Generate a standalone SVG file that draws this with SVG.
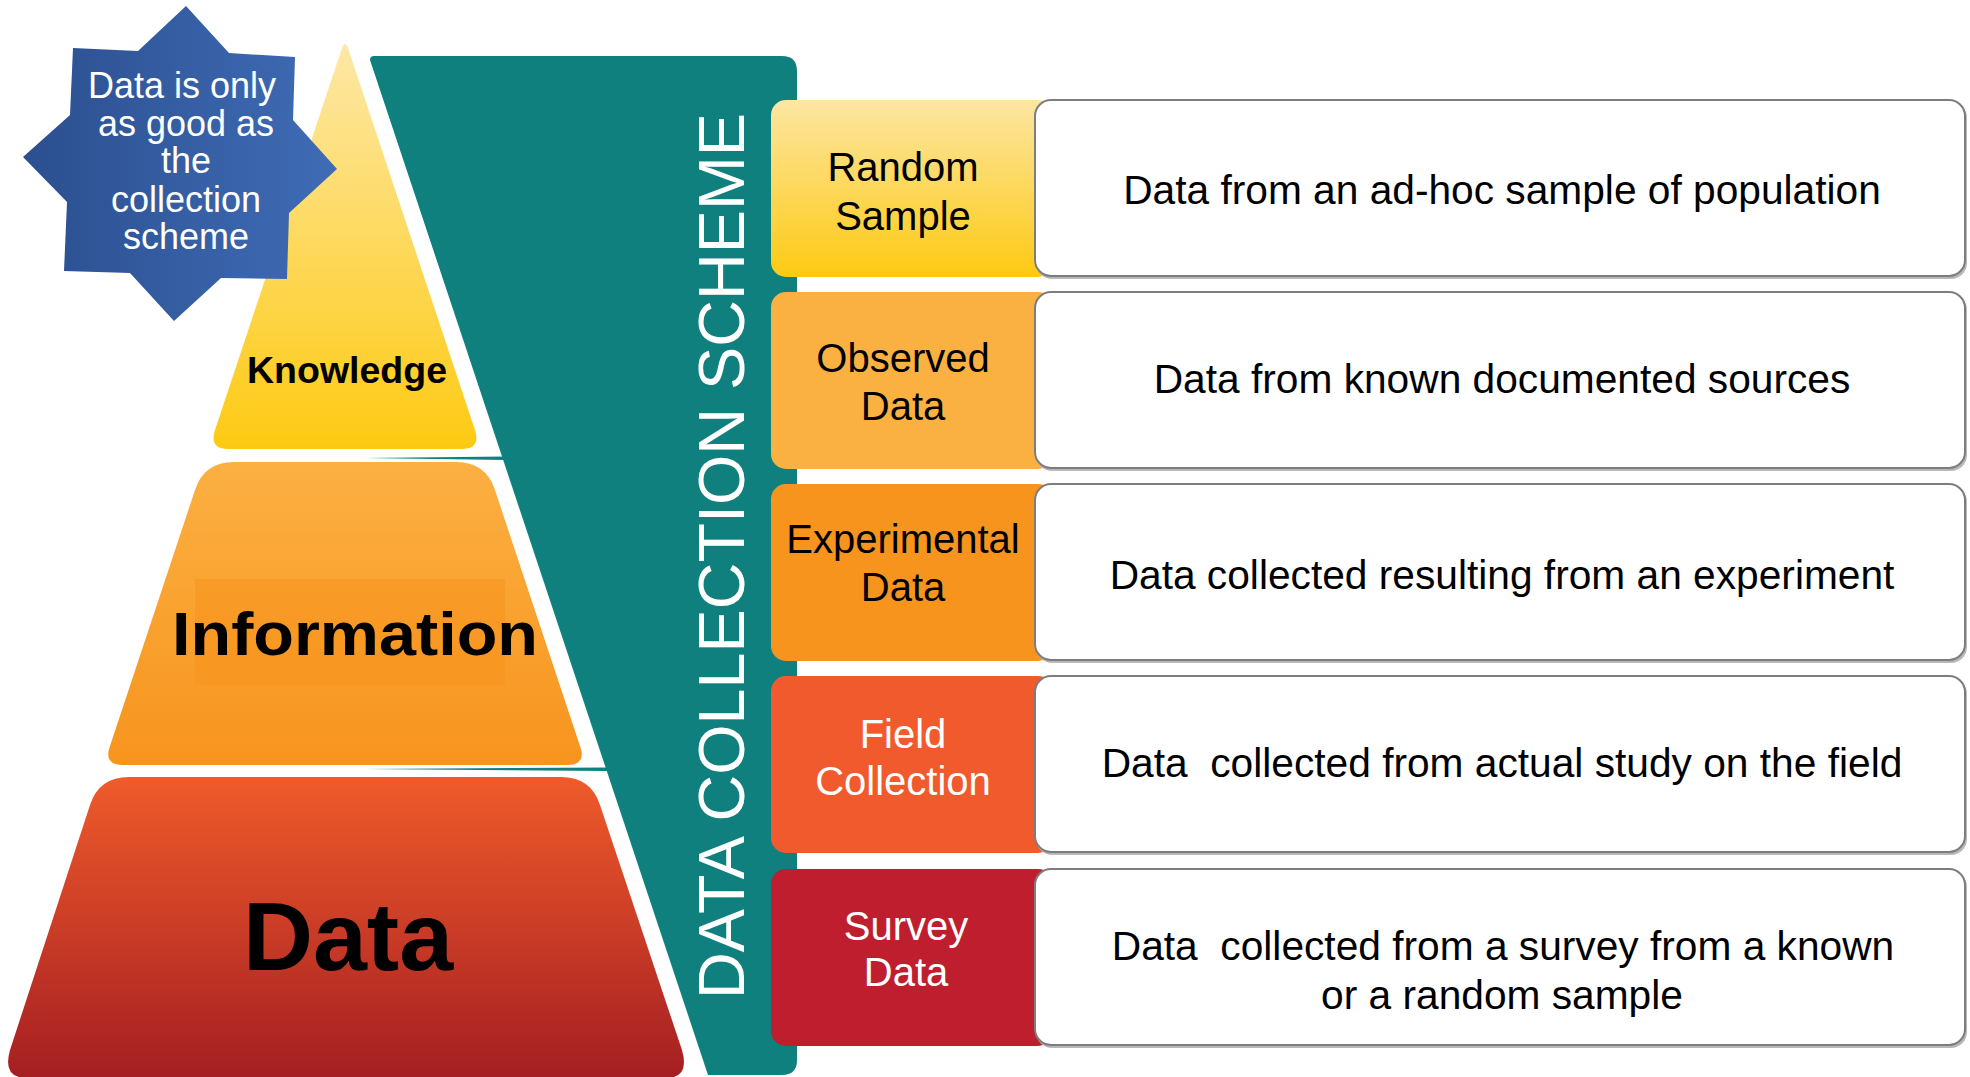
<svg xmlns="http://www.w3.org/2000/svg" width="1970" height="1077" viewBox="0 0 1970 1077">
  <defs>
    <linearGradient id="gKnow" x1="0" y1="0" x2="0" y2="1">
      <stop offset="0" stop-color="#FDE8A6"/>
      <stop offset="1" stop-color="#FDCA12"/>
    </linearGradient>
    <linearGradient id="gInfo" x1="0" y1="0" x2="0" y2="1">
      <stop offset="0" stop-color="#FBB042"/>
      <stop offset="1" stop-color="#F7941E"/>
    </linearGradient>
    <linearGradient id="gData" x1="0" y1="0" x2="0" y2="1">
      <stop offset="0" stop-color="#EF5B2B"/>
      <stop offset="1" stop-color="#A51E22"/>
    </linearGradient>
    <linearGradient id="gStar" x1="0" y1="0" x2="1" y2="0">
      <stop offset="0" stop-color="#2B4F8F"/>
      <stop offset="1" stop-color="#3F6CB6"/>
    </linearGradient>
    <linearGradient id="gRandom" x1="0" y1="0" x2="0" y2="1">
      <stop offset="0" stop-color="#FCE6A2"/>
      <stop offset="1" stop-color="#FDCA12"/>
    </linearGradient>
  </defs>
  <style>
    .lbl { font-family: "Liberation Sans", Arial, sans-serif; font-size: 40px; text-anchor: middle; fill: #000; }
    .lbl-w { fill: #fff; }
    .desc { font-family: "Liberation Sans", Arial, sans-serif; font-size: 40.7px; text-anchor: middle; fill: #000; white-space: pre; }
    .card { fill: #fff; stroke: #7d7d7d; stroke-width: 2; }
    .shade { fill: #b8b8b8; }
    .tier { font-family: "Liberation Sans", Arial, sans-serif; font-weight: bold; text-anchor: middle; fill: #000; }
    .star-txt { font-family: "Liberation Sans", Arial, sans-serif; font-size: 36px; text-anchor: middle; fill: #fff; }
  </style>

  <rect width="1970" height="1077" fill="#fff"/>

  <!-- collection scheme band -->
  <g id="scheme-band">
    <path d="M 374,56 L 782,56 Q 797,56 797,71 L 797,1060 Q 797,1075 782,1075 L 708,1075 L 370,60 Q 370,56 374,56 Z" fill="#10807F"/>
    <text transform="translate(744,556) rotate(-90)" x="0" y="0" font-family="'Liberation Sans', Arial, sans-serif" font-size="65" fill="#fff" text-anchor="middle" textLength="886" lengthAdjust="spacingAndGlyphs">DATA COLLECTION SCHEME</text>
  </g>

  <!-- thin links between pyramid gaps and band -->
  <g id="connectors" fill="#10807F">
    <polygon points="365,458 506,456.5 506,460"/>
    <polygon points="365,769 608,767.5 608,771"/>
  </g>

  <!-- pyramid -->
  <g id="tier-knowledge">
    <path d="M 342,48 Q 345,40 348,48 L 475,430 Q 481,449 462,449 L 228,449 Q 209,449 215,430 Z" fill="url(#gKnow)"/>
    <text class="tier" x="347" y="383" font-size="37.5">Knowledge</text>
  </g>

  <g id="tier-information">
    <path d="M 234,462 L 456,462 Q 486,462 495,490 L 580,746 Q 587,765 567,765 L 123,765 Q 103,765 110,746 L 195,490 Q 204,462 234,462 Z" fill="url(#gInfo)"/>
    <rect x="195" y="579" width="310" height="106" fill="#F7941E" opacity="0.55"/>
    <text class="tier" x="355" y="655" font-size="61" textLength="366" lengthAdjust="spacingAndGlyphs">Information</text>
  </g>

  <g id="tier-data">
    <path d="M 129,777 L 561,777 Q 591,777 600,805 L 682,1050 Q 690,1078 666,1078 L 27,1078 Q 2,1078 10,1050 L 90,805 Q 99,777 129,777 Z" fill="url(#gData)"/>
    <text class="tier" x="348" y="970" font-size="97">Data</text>
  </g>

  <!-- callout star -->
  <g id="callout-star">
    <polygon points="186,6 229,53 295,57 293,120 337,169 289,213 287,279 221,278 174,321 130,273 64,271 67,202 23,157 70,115 73,48 138,51" fill="url(#gStar)"/>
    <text class="star-txt" x="182" y="98">Data is only</text>
    <text class="star-txt" x="186" y="136">as good as</text>
    <text class="star-txt" x="186" y="173">the</text>
    <text class="star-txt" x="186" y="212">collection</text>
    <text class="star-txt" x="186" y="249">scheme</text>
  </g>

  <!-- collection methods -->
  <g id="row-random">
    <rect x="771" y="100" width="282" height="177" rx="15" fill="url(#gRandom)"/>
    <rect class="shade" x="1036" y="102" width="931" height="177" rx="16"/>
    <rect class="card" x="1035" y="100" width="930" height="176" rx="16"/>
    <text class="lbl" x="903" y="181">Random</text>
    <text class="lbl" x="903" y="230">Sample</text>
    <text class="desc" x="1502" y="204">Data from an ad-hoc sample of population</text>
  </g>

  <g id="row-observed">
    <rect x="771" y="292" width="282" height="177" rx="15" fill="#FBB042"/>
    <rect class="shade" x="1036" y="294" width="931" height="177" rx="16"/>
    <rect class="card" x="1035" y="292" width="930" height="176" rx="16"/>
    <text class="lbl" x="903" y="372">Observed</text>
    <text class="lbl" x="903" y="420">Data</text>
    <text class="desc" x="1502" y="393">Data from known documented sources</text>
  </g>

  <g id="row-experimental">
    <rect x="771" y="484" width="282" height="177" rx="15" fill="#F7941E"/>
    <rect class="shade" x="1036" y="486" width="931" height="177" rx="16"/>
    <rect class="card" x="1035" y="484" width="930" height="176" rx="16"/>
    <text class="lbl" x="903" y="553">Experimental</text>
    <text class="lbl" x="903" y="601">Data</text>
    <text class="desc" x="1502" y="589">Data collected resulting from an experiment</text>
  </g>

  <g id="row-field">
    <rect x="771" y="676" width="282" height="177" rx="15" fill="#F15A2C"/>
    <rect class="shade" x="1036" y="678" width="931" height="177" rx="16"/>
    <rect class="card" x="1035" y="676" width="930" height="176" rx="16"/>
    <text class="lbl lbl-w" x="903" y="748">Field</text>
    <text class="lbl lbl-w" x="903" y="795">Collection</text>
    <text class="desc" x="1502" y="777">Data  collected from actual study on the field</text>
  </g>

  <g id="row-survey">
    <rect x="771" y="869" width="282" height="177" rx="15" fill="#BE1E2D"/>
    <rect class="shade" x="1036" y="871" width="931" height="177" rx="16"/>
    <rect class="card" x="1035" y="869" width="930" height="176" rx="16"/>
    <text class="lbl lbl-w" x="906" y="940">Survey</text>
    <text class="lbl lbl-w" x="906" y="986">Data</text>
    <text class="desc" x="1503" y="960">Data  collected from a survey from a known</text>
    <text class="desc" x="1502" y="1009">or a random sample</text>
  </g>
</svg>
